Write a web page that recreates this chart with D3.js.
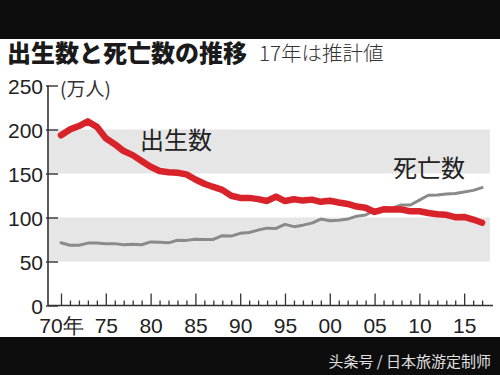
<!DOCTYPE html>
<html><head><meta charset="utf-8">
<script src="https://cdn.jsdelivr.net/npm/d3@7"></script>
<style>
html,body{margin:0;padding:0;background:#fff;}
svg{display:block;}
</style></head>
<body>
<svg id="c" width="500" height="375"></svg>
<script>
const years = d3.range(1970, 2018);
const births = [193.4,200.1,203.9,209.2,203.0,190.1,183.3,175.5,170.9,164.3,
  157.7,152.9,151.5,150.9,149.0,143.2,138.3,134.7,131.4,124.7,
  122.2,122.3,120.9,118.8,123.8,118.7,120.7,119.2,120.3,117.8,
  119.1,117.1,115.4,112.4,111.1,106.3,109.3,109.0,109.1,107.0,
  107.1,105.1,103.7,103.0,100.4,100.6,97.7,94.1];
const deaths = [71.3,68.5,68.4,70.9,71.1,70.2,70.3,69.0,69.6,69.0,
  72.3,72.0,71.2,74.1,74.0,75.2,75.1,75.1,79.3,78.9,
  82.0,83.0,85.7,87.9,87.6,92.2,89.6,91.3,93.6,98.2,
  96.2,97.0,98.2,101.5,102.9,108.4,108.5,110.8,114.2,114.2,
  119.7,125.3,125.6,126.8,127.3,129.0,130.8,134.0];
const yTicks = [0,50,100,150,200,250];
const xTickLabels = ["70年","75","80","85","90","95","00","05","10","15"];
const bands = [[50,100],[150,200]];
const title = "出生数と死亡数の推移";
const subtitle = "17年は推計値";
const unit = "(万人)";
const labelBirth = "出生数";
const labelDeath = "死亡数";
const watermark = "头条号 / 日本旅游定制师";

const svg = d3.select("#c");
const x = d3.scaleLinear().domain([1970, 2017]).range([61, 482.1]);
const y = d3.scaleLinear().domain([0, 250]).range([305.5, 85.5]);
const axisX = 48, axisRight = 493;
const cjk = "'Noto Sans CJK JP','Noto Sans CJK SC',sans-serif";
const num = "'Liberation Sans Narrow','Liberation Sans',Arial,sans-serif";

// black bars
svg.append("rect").attr("x",0).attr("y",0).attr("width",500).attr("height",39).attr("fill","#0d0d0d");
svg.append("rect").attr("x",0).attr("y",337).attr("width",500).attr("height",38).attr("fill","#0d0d0d");

// bands
svg.selectAll("rect.band").data(bands).join("rect").attr("class","band")
  .attr("x", axisX).attr("width", 490 - axisX)
  .attr("y", d => y(d[1])).attr("height", d => y(d[0]) - y(d[1]))
  .attr("fill", "#e6e6e6");

// title
svg.append("text").attr("x",7).attr("y",62).attr("font-family",cjk).attr("font-weight",900)
  .attr("font-size",24).attr("fill","#1a1a1a").text(title);
svg.append("text").attr("x",259).attr("y",61).attr("font-family",cjk).attr("font-weight",300)
  .attr("font-size",20.5).attr("fill","#333").text(subtitle);

// y axis
const yAxis = d3.axisLeft(y).tickValues(yTicks).tickSize(-10).tickPadding(5).tickFormat(d3.format("d"));
const gy = svg.append("g").attr("transform", `translate(${axisX},0)`).call(yAxis);
gy.select(".domain").remove();
gy.append("line").attr("x1",0).attr("x2",0).attr("y1",y(250)).attr("y2",y(0)).attr("stroke","#333").attr("stroke-width",1.6);
gy.selectAll(".tick line").attr("stroke","#333").attr("stroke-width",1.4).attr("x1",-2);
gy.selectAll(".tick text").attr("font-family",num).attr("font-size",21).attr("fill","#222")
  .attr("dy","0.36em");

// unit
svg.append("text").attr("x",60).attr("y",96).attr("font-family",cjk).attr("font-size",19)
  .attr("fill","#333").text(unit);

// x axis
const majorYears = d3.range(1970, 2016, 5);
const xAxis = d3.axisBottom(x).tickValues(d3.range(1970, 2018)).tickSize(0).tickFormat("");
const gx = svg.append("g").attr("transform", `translate(0,${y(0)})`).call(xAxis);
gx.select(".domain").remove();
gx.append("line").attr("x1",axisX).attr("x2",axisRight).attr("y1",0).attr("y2",0).attr("stroke","#333").attr("stroke-width",1.6);
gx.selectAll(".tick line").attr("stroke","#333").attr("stroke-width",1.3)
  .attr("y1",0).attr("y2", d => majorYears.includes(d) ? -12 : -5);
gx.selectAll(".tick").filter(d => majorYears.includes(d)).select("text")
  .text(d => xTickLabels[majorYears.indexOf(d)])
  .attr("y", 20).attr("dy", "0.36em")
  .attr("font-family", num)
  .attr("font-size", 21).attr("fill","#222");

// lines
const line = d3.line().x((d,i) => x(years[i])).y(d => y(d)).curve(d3.curveLinear);
svg.append("path").datum(deaths).attr("d", line).attr("fill","none")
  .attr("stroke","#8a8a8a").attr("stroke-width",3).attr("stroke-linejoin","round").attr("stroke-linecap","round");
svg.append("path").datum(births).attr("d", line).attr("fill","none")
  .attr("stroke","#d9232b").attr("stroke-width",6.5).attr("stroke-linejoin","round").attr("stroke-linecap","round");

// series labels
svg.append("text").attr("x",176).attr("y",149).attr("text-anchor","middle").attr("font-family",cjk)
  .attr("font-size",24).attr("fill","#222").text(labelBirth);
svg.append("text").attr("x",429).attr("y",177).attr("text-anchor","middle").attr("font-family",cjk)
  .attr("font-size",24).attr("fill","#222").text(labelDeath);

// watermark
svg.append("text").attr("x",491).attr("y",367).attr("text-anchor","end").attr("font-family",cjk)
  .attr("font-size",15).attr("fill","#e0e0e0").text(watermark);
</script>
</body></html>
